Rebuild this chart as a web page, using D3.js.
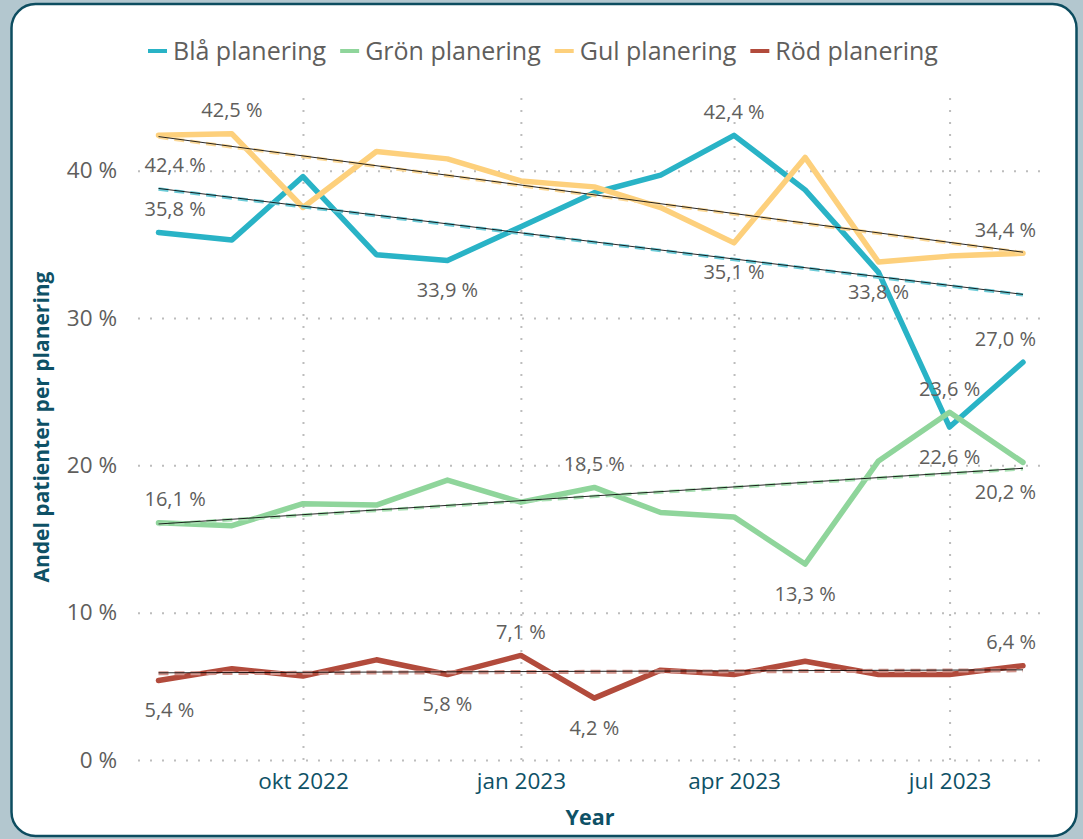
<!DOCTYPE html>
<html>
<head>
<meta charset="utf-8">
<script src="https://cdn.jsdelivr.net/npm/d3@7"></script>
<style>
  html, body { margin: 0; padding: 0; background: #b3c7cf; }
  svg { display: block; font-family: "Open Sans", "Noto Sans", sans-serif; }
</style>
</head>
<body>
<div id="chart"></div>
<script>
// --- data ---
const months = ["2022-08", "2022-09", "2022-10", "2022-11", "2022-12", "2023-01", "2023-02",
                "2023-03", "2023-04", "2023-05", "2023-06", "2023-07", "2023-08"];
const seriesNames = ["Blå planering", "Grön planering", "Gul planering", "Röd planering"];
const blaValues  = [35.8, 35.3, 39.6, 34.3, 33.9, 36.2, 38.5, 39.7, 42.4, 38.7, 33.1, 22.6, 27.0];
const gronValues = [16.1, 15.9, 17.4, 17.3, 19.0, 17.5, 18.5, 16.8, 16.5, 13.3, 20.3, 23.6, 20.2];
const gulValues  = [42.4, 42.5, 37.5, 41.3, 40.8, 39.3, 38.9, 37.5, 35.1, 40.9, 33.8, 34.2, 34.4];
const rodValues  = [5.4, 6.2, 5.7, 6.8, 5.8, 7.1, 4.2, 6.1, 5.8, 6.7, 5.8, 5.8, 6.4];
const yTicks = [0, 10, 20, 30, 40];
// which points carry a data label (series index, month index, side)
const labelPoints = [
  [0, 0, "above"], [0, 4, "below"], [0, 8, "above"], [0, 11, "below"], [0, 12, "above"],
  [1, 0, "above"], [1, 6, "above"], [1, 9, "below"], [1, 11, "above"], [1, 12, "below"],
  [2, 0, "below"], [2, 1, "above"], [2, 8, "below"], [2, 10, "below"], [2, 12, "above"],
  [3, 0, "below"], [3, 4, "below"], [3, 5, "above"], [3, 6, "below"], [3, 12, "above"]
];

const colors = ["#29b3c6", "#8fd59b", "#fdd07c", "#b24b3c"];
const trendColors = ["#6ccbd7", "#a9e0b3", "#fcd998", "#d2948b"];
const valueSeries = [blaValues, gronValues, gulValues, rodValues];

const W = 1083, H = 839;
const plotLeft = 138, plotRight = 1040, plotTop = 97, plotBottom = 760;

const sv = d3.timeFormatLocale({
  dateTime: "%A %e %B %Y %X", date: "%Y-%m-%d", time: "%H:%M:%S", periods: ["fm", "em"],
  days: ["söndag", "måndag", "tisdag", "onsdag", "torsdag", "fredag", "lördag"],
  shortDays: ["sön", "mån", "tis", "ons", "tor", "fre", "lör"],
  months: ["januari", "februari", "mars", "april", "maj", "juni", "juli", "augusti", "september", "oktober", "november", "december"],
  shortMonths: ["jan", "feb", "mar", "apr", "maj", "jun", "jul", "aug", "sep", "okt", "nov", "dec"]
});
const num = d3.formatLocale({ decimal: ",", thousands: "\u00a0", grouping: [3], currency: ["", " kr"] });
const fmtLabel = v => num.format(".1f")(v) + " %";
const fmtTick = v => num.format("d")(v) + " %";

const dates = months.map(d3.timeParse("%Y-%m"));

const x = d3.scaleTime().domain([dates[0], dates[dates.length - 1]]).range([158.5, 1023]);
const y = d3.scaleLinear().domain([0, 45]).range([plotBottom, plotTop]);

const svg = d3.select("#chart").append("svg").attr("width", W).attr("height", H);

// card
svg.append("rect")
  .attr("x", 11.5).attr("y", 4).attr("width", 1065).attr("height", 832)
  .attr("rx", 24).attr("fill", "#fff")
  .attr("stroke", "#0d4d60").attr("stroke-width", 2.5);

// legend
const legend = svg.append("g").attr("transform", "translate(148,51)");
let lx = 0;
seriesNames.forEach((name, i) => {
  const g = legend.append("g").attr("transform", `translate(${lx},0)`);
  g.append("line").attr("x1", 0).attr("x2", 19).attr("y1", 0).attr("y2", 0)
    .attr("stroke", colors[i]).attr("stroke-width", 4);
  const t = g.append("text").attr("x", 25).attr("dy", "0.35em")
    .attr("font-size", "25px").attr("fill", "#605e5c").text(name);
  lx += 25 + t.node().getComputedTextLength() + 14;
});

// y grid + labels
const yAxis = svg.append("g").attr("transform", `translate(${plotLeft},0)`)
  .call(d3.axisLeft(y).tickValues(yTicks).tickFormat(fmtTick)
    .tickSize(-(plotRight - plotLeft)).tickPadding(21));
yAxis.select(".domain").remove();
yAxis.selectAll("line").attr("stroke", "#bdbdbd").attr("stroke-width", 2).attr("stroke-dasharray", "2,10");
yAxis.selectAll("text").attr("font-size", "22.5px").attr("fill", "#605e5c")
  .attr("font-family", "Open Sans, sans-serif");

// x grid + labels
const xAxis = svg.append("g").attr("transform", `translate(0,${plotBottom})`)
  .call(d3.axisBottom(x).ticks(d3.timeMonth.every(3)).tickFormat(sv.format("%b %Y"))
    .tickSize(-(plotBottom - plotTop)));
xAxis.select(".domain").remove();
xAxis.selectAll("line").attr("stroke", "#bdbdbd").attr("stroke-width", 2).attr("stroke-dasharray", "2,10");
xAxis.selectAll("text").attr("y", 21).attr("dy", "0.35em")
  .attr("font-size", "22.5px").attr("fill", "#0e5166")
  .attr("font-family", "Open Sans, sans-serif");

// axis titles
svg.append("text").attr("x", 590).attr("y", 817).attr("dy", "0.35em")
  .attr("text-anchor", "middle").attr("font-size", "21.5px").attr("font-weight", "bold")
  .attr("fill", "#0e5166").text("Year");
svg.append("text").attr("transform", "translate(42,427) rotate(-90)").attr("dy", "0.35em")
  .attr("text-anchor", "middle").attr("font-size", "21px").attr("font-weight", "bold")
  .attr("fill", "#0e5166").text("Andel patienter per planering");

// lines
const line = d3.line().x((d, i) => x(dates[i])).y(d => y(d));
valueSeries.forEach((vals, s) => {
  svg.append("path").datum(vals).attr("d", line)
    .attr("fill", "none").attr("stroke", colors[s]).attr("stroke-width", 5.5)
    .attr("stroke-linejoin", "round").attr("stroke-linecap", "round");
});

// trend lines (least squares over time)
valueSeries.forEach((vals, s) => {
  const xs = dates.map(d => +d);
  const mx = d3.mean(xs), my = d3.mean(vals);
  const sxy = d3.sum(xs, (v, i) => (v - mx) * (vals[i] - my));
  const sxx = d3.sum(xs, v => (v - mx) * (v - mx));
  const slope = sxy / sxx;
  const ends = [xs[0], xs[xs.length - 1]].map(t => [x(new Date(t)), y(my + slope * (t - mx))]);
  svg.append("line").attr("x1", ends[0][0]).attr("y1", ends[0][1]).attr("x2", ends[1][0]).attr("y2", ends[1][1])
    .attr("stroke", trendColors[s]).attr("stroke-width", s === 3 ? 4 : 3.5).attr("stroke-dasharray", "10,6");
  svg.append("line").attr("x1", ends[0][0]).attr("y1", ends[0][1] - 0.5).attr("x2", ends[1][0]).attr("y2", ends[1][1] - 0.5)
    .attr("stroke", "#000").attr("stroke-opacity", 0.85).attr("stroke-width", 1);
});

// data labels
const labels = svg.append("g");
labelPoints.forEach(([s, i, side]) => {
  const v = valueSeries[s][i];
  const px = x(dates[i]), py = y(v);
  const t = labels.append("text").attr("text-anchor", "middle").attr("dy", "0.35em")
    .attr("font-size", "20px").attr("fill", "#605e5c").text(fmtLabel(v));
  const w = t.node().getComputedTextLength();
  const cx = Math.max(plotLeft + 6.5 + w / 2, Math.min(plotRight - 4 - w / 2, px));
  t.attr("x", cx).attr("y", side === "above" ? py - 23.5 : py + 29.5);
});
</script>
</body>
</html>
